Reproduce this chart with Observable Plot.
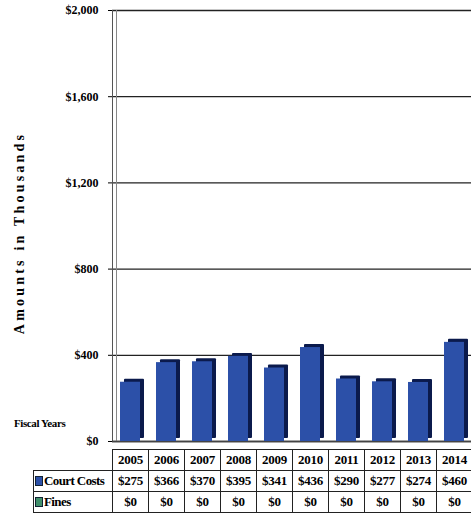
<!DOCTYPE html>
<html><head><meta charset="utf-8">
<script src="https://cdn.jsdelivr.net/npm/d3@7"></script>
<script src="https://cdn.jsdelivr.net/npm/@observablehq/plot@0.6"></script>
<style>
body{margin:0;background:#fff;}
#wrap{position:relative;width:471px;height:523px;overflow:hidden;font-family:"Liberation Serif",serif;font-weight:bold;color:#000;}
#wrap svg{position:absolute;left:0;top:0;}
.abs{position:absolute;white-space:nowrap;}
.cell{position:absolute;box-sizing:border-box;border:1px solid #222;display:flex;align-items:center;justify-content:center;font-size:13px;letter-spacing:-0.3px;}
</style></head><body><div id="wrap"></div>
<script>
const years = ["2005","2006","2007","2008","2009","2010","2011","2012","2013","2014"];
const courtCosts = [275,366,370,395,341,436,290,277,274,460];
const fines = [0,0,0,0,0,0,0,0,0,0];
const yTicks = [0,400,800,1200,1600,2000];
const seriesNames = ["Court Costs","Fines"];
const seriesColors = ["#2c50a8","#3f8f6a"];

const data = years.map((y,i)=>({year:y, value:courtCosts[i]}));
const fmt = d => "$" + d3.format(",")(d);

const chart = Plot.plot({
  width:471, height:450, marginTop:10, marginBottom:9, marginLeft:112, marginRight:0,
  x:{domain:years, paddingInner:0.45, paddingOuter:0.2, axis:null},
  y:{domain:[0,2000], label:null},
  style:{fontFamily:"Liberation Serif, serif", fontWeight:"bold", fontSize:"12px", color:"#000", background:"transparent"},
  marks:[
    Plot.gridY(yTicks,{stroke:"#222", strokeOpacity:1, strokeWidth:1.3}),
    Plot.axisY(yTicks,{tickSize:4, tickPadding:10, tickFormat:fmt, label:null}),
    Plot.frame({anchor:"left", stroke:"#555"}),
    Plot.frame({anchor:"left", stroke:"#888", dx:4}),
    Plot.ruleY([0],{stroke:"#444", strokeWidth:1.5}),
    Plot.barY(data,{x:"year", y:"value", fill:"#0b1a4c", dx:4, dy:-3, rx:1}),
    Plot.barY(data,{x:"year", y:"value", fill:seriesColors[0]})
  ]
});
const wrap = document.getElementById("wrap");
wrap.appendChild(chart);

const xs = chart.scale("x");
const gap = (xs.step - xs.bandwidth)/2;

function add(html, css, cls){
  const d = document.createElement("div");
  d.className = cls || "abs";
  d.innerHTML = html;
  Object.assign(d.style, css);
  wrap.appendChild(d);
  return d;
}

// Axis titles
add("Amounts in Thousands", {left:"20px", top:"233px", fontSize:"14px", letterSpacing:"3.2px", transform:"translate(-50%,-50%) rotate(-90deg)"});
add("Fiscal Years", {left:"14px", top:"417px", fontSize:"11px", letterSpacing:"-0.4px"});

// Table
const rowTop = [449, 470, 491], rowH = 22;
years.forEach((yr,i)=>{
  const left = xs.apply(yr) - gap;
  const w = xs.step + 1;
  add(yr, {left:left+"px", top:rowTop[0]+"px", width:w+"px", height:rowH+"px"}, "cell");
  add(fmt(courtCosts[i]), {left:left+"px", top:rowTop[1]+"px", width:w+"px", height:rowH+"px"}, "cell");
  add(fmt(fines[i]), {left:left+"px", top:rowTop[2]+"px", width:w+"px", height:rowH+"px"}, "cell");
});
const labelLeft = 33, labelW = (xs.apply(years[0]) - gap) - labelLeft + 1;
seriesNames.forEach((name,j)=>{
  add(`<span style="display:inline-block;width:6px;height:8px;background:${seriesColors[j]};border:1px solid #123;margin-right:1px;vertical-align:-1px"></span>${name}`,
    {left:labelLeft+"px", top:rowTop[j+1]+"px", width:labelW+"px", height:rowH+"px", justifyContent:"flex-start", paddingLeft:"1px", letterSpacing:"-0.6px"}, "cell");
});
</script></body></html>
